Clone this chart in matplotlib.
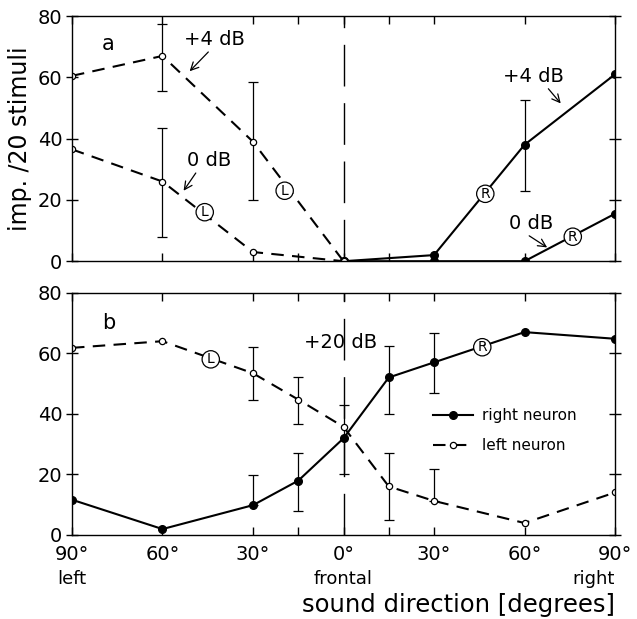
import matplotlib.pyplot as plt

# panel a: two stimulus levels, left and right neuron
ang_a_left = [-90, -60, -30, 0]
left_4db = [60.5, 67, 39, 0]
ang_a_left0 = [-90, -60, -30, 0]
left_0db = [36.5, 26, 3, 0]
ang_a_right = [0, 30, 60, 90]
right_4db = [0, 2, 38, 61]
right_0db = [0, 0, 0, 15.5]

# error bars in panel a (angle, value, low, high)
err_a_x = [-60, -30, -60, 60]
err_a_val = [67, 39, 26, 38]
err_a_lo = [55.5, 20, 8, 23]
err_a_hi = [77.5, 58.5, 43.5, 52.5]

# panel b: +20 dB
ang_b = [-90, -60, -30, -15, 0, 15, 30, 60, 90]
right_neuron = [11.6, 1.9, 9.8, 17.9, 31.9, 52, 57, 67, 64.8]
left_neuron = [61.8, 64, 53.4, 44.7, 35.7, 16, 11.2, 3.9, 14]

err_b_x = [-30, -15, 15, 30, -30, -15, 0, 15, 30]
err_b_val = [53.4, 44.7, 16, 11.2, 9.8, 17.9, 31.9, 52, 57]
err_b_lo = [44.7, 36.5, 5, 11.2, 9.8, 7.8, 20, 40, 46.8]
err_b_hi = [62, 52.2, 27.2, 21.7, 19.8, 27, 43, 62.5, 66.8]

xticks = [-90, -60, -30, 0, 30, 60, 90]
xticklabels = ['90°', '60°', '30°', '0°', '30°', '60°', '90°']
minor_ticks = [-15, 15]

plt.rcParams['font.family'] = 'DejaVu Sans'

fig = plt.figure(figsize=(6.37, 6.19), dpi=100)
ax1 = fig.add_axes([0.113, 0.578, 0.8525, 0.396])
ax2 = fig.add_axes([0.113, 0.136, 0.8525, 0.391])

dash = (0, (6, 4))
open_kw = dict(marker='o', markersize=4.5, markerfacecolor='white',
               markeredgecolor='black', markeredgewidth=0.9)
fill_kw = dict(marker='o', markersize=5.5, markerfacecolor='black',
               markeredgecolor='black')
circ = dict(boxstyle='circle,pad=0.12', fc='white', ec='black', lw=0.9)


def errbars(ax, x, v, lo, hi):
    ylo = [a - b for a, b in zip(v, lo)]
    yhi = [b - a for a, b in zip(v, hi)]
    ax.errorbar(x, v, yerr=[ylo, yhi], fmt='none', ecolor='black',
                elinewidth=0.9, capsize=3.5, capthick=0.9, zorder=1)


for ax in (ax1, ax2):
    ax.set_xlim(-90, 90)
    ax.set_ylim(0, 80)
    ax.axvline(0, color='black', lw=1.0, linestyle=(0, (30, 12)), zorder=0)
    ax.set_xticks(xticks)
    ax.set_xticks(minor_ticks, minor=True)
    ax.set_yticks([0, 20, 40, 60, 80])
    ax.tick_params(direction='in', length=6, width=1, labelsize=14,
                   top=True, right=True, which='both', pad=7)
    ax.tick_params(axis='y', direction='inout', length=8, pad=3)
    for s in ax.spines.values():
        s.set_linewidth(1.0)

# panel a
ax1.plot(ang_a_left, left_4db, color='black', lw=1.5, linestyle=dash, **open_kw)
ax1.plot(ang_a_left0, left_0db, color='black', lw=1.5, linestyle=dash, **open_kw)
ax1.plot(ang_a_right, right_4db, color='black', lw=1.5, **fill_kw)
ax1.plot(ang_a_right, right_0db, color='black', lw=1.5, **fill_kw)
ax1.plot([0], [0], linestyle='none', **open_kw)
errbars(ax1, err_a_x, err_a_val, err_a_lo, err_a_hi)
ax1.set_xticklabels([])
ax1.set_ylabel('imp. /20 stimuli', fontsize=17, labelpad=4)

ax1.text(-80, 69, 'a', fontsize=15)
ax1.annotate('+4 dB', xy=(-51, 62), xytext=(-53, 70.5), fontsize=14,
             arrowprops=dict(arrowstyle='->', lw=0.9, color='black',
                             shrinkA=0, shrinkB=0,
                             relpos=(0.45, 0.0)))
ax1.annotate('0 dB', xy=(-53, 23), xytext=(-52, 31), fontsize=14,
             arrowprops=dict(arrowstyle='->', lw=0.9, color='black',
                             shrinkA=0, shrinkB=0, relpos=(0.25, 0.0)))
ax1.text(-46, 16, 'L', fontsize=10, ha='center', va='center', bbox=circ)
ax1.text(-19.5, 23, 'L', fontsize=10, ha='center', va='center', bbox=circ)
ax1.text(47, 22, 'R', fontsize=10, ha='center', va='center', bbox=circ)
ax1.text(76, 8, 'R', fontsize=10, ha='center', va='center', bbox=circ)
ax1.annotate('+4 dB', xy=(72, 51.5), xytext=(53, 58.5), fontsize=14,
             arrowprops=dict(arrowstyle='->', lw=0.9, color='black',
                             shrinkA=0, shrinkB=0, relpos=(0.7, 0.0)))
ax1.annotate('0 dB', xy=(67.5, 4.5), xytext=(55, 10.5), fontsize=14,
             arrowprops=dict(arrowstyle='->', lw=0.9, color='black',
                             shrinkA=0, shrinkB=0, relpos=(0.35, 0.0)))

# panel b
ax2.plot(ang_b, right_neuron, color='black', lw=1.5, label='right neuron', **fill_kw)
ax2.plot(ang_b, left_neuron, color='black', lw=1.5, linestyle=dash,
         label='left neuron', **open_kw)
errbars(ax2, err_b_x, err_b_val, err_b_lo, err_b_hi)
ax2.set_xticklabels(xticklabels)
ax2.text(-80, 68, 'b', fontsize=15)
ax2.text(-1, 63.5, '+20 dB', fontsize=14, ha='center', va='center')
ax2.text(-44, 58, 'L', fontsize=10, ha='center', va='center', bbox=circ)
ax2.text(46, 62, 'R', fontsize=10, ha='center', va='center', bbox=circ)
ax2.legend(loc='center left', bbox_to_anchor=(0.64, 0.43), frameon=False,
           fontsize=11, handlelength=2.6, handletextpad=0.6, labelspacing=0.95)

ax2.text(-90, -14.5, 'left', fontsize=13, ha='center', va='center')
ax2.text(0, -14.5, 'frontal', fontsize=13, ha='center', va='center')
ax2.text(90, -14.5, 'right', fontsize=13, ha='right', va='center')
fig.text(0.965, 0.012, 'sound direction [degrees]', fontsize=17.5,
         ha='right', va='baseline')

fig.savefig('out.png', dpi=100)
